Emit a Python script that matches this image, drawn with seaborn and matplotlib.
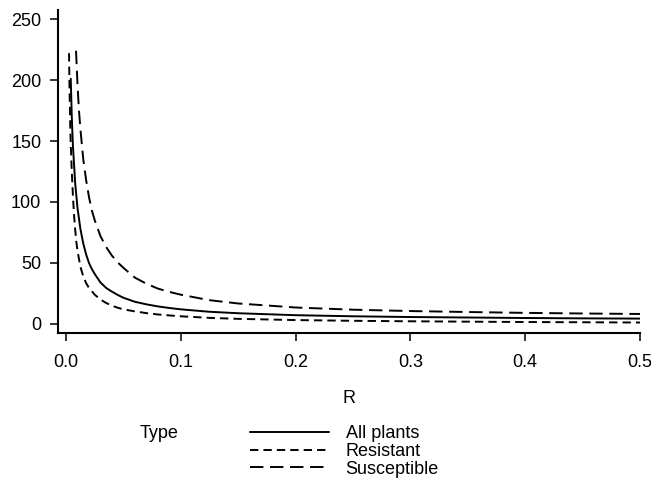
import seaborn as sns
import matplotlib.pyplot as plt
import pandas as pd

# values
r_all = [0.0041, 0.005, 0.006, 0.008, 0.01, 0.0125, 0.015, 0.0175, 0.02, 0.0225, 0.025, 0.03,
         0.035, 0.04, 0.045, 0.05, 0.06, 0.07, 0.08, 0.09, 0.1, 0.125, 0.15, 0.2, 0.25,
         0.3, 0.35, 0.4, 0.45, 0.5]
y_all = [201, 170, 146, 115, 95, 78, 66, 57, 50, 45, 41, 34,
         29.5, 26.5, 23.8, 21.5, 18.2, 16.1, 14.4, 13.1, 12, 10, 8.8, 7.2, 6.3,
         5.7, 5.3, 4.9, 4.6, 4.4]

r_res = [0.0026, 0.003, 0.0035, 0.004, 0.005, 0.006, 0.007, 0.008, 0.009, 0.01, 0.0125, 0.015,
         0.0175, 0.02, 0.025, 0.03, 0.035, 0.04, 0.045, 0.05, 0.06, 0.07, 0.08, 0.09, 0.1,
         0.125, 0.15, 0.2, 0.25, 0.3, 0.35, 0.4, 0.45, 0.5]
y_res = [222, 195, 170, 150, 125, 105, 89, 77, 67, 60, 47, 39,
         33.5, 29.5, 24, 20, 17.2, 15, 13.3, 12, 10.3, 8.9, 7.8, 7, 6.3,
         5, 4.2, 3.2, 2.6, 2.2, 1.9, 1.6, 1.4, 1.2]

r_sus = [0.0087, 0.01, 0.0112, 0.0125, 0.015, 0.0175, 0.02, 0.0225, 0.025, 0.03, 0.035,
         0.04, 0.045, 0.05, 0.06, 0.07, 0.08, 0.09, 0.1, 0.125, 0.15, 0.2, 0.25,
         0.3, 0.35, 0.4, 0.45, 0.5]
y_sus = [224, 196, 176, 160, 135, 118, 104, 93, 85, 72, 63,
         56, 50.5, 46, 38, 33, 29, 26.3, 24, 19.5, 16.8, 13.5, 11.7,
         10.6, 9.8, 9.1, 8.6, 8.2]

types = ['All plants', 'Resistant', 'Susceptible']

df = pd.concat([
    pd.DataFrame({'R': r_all, 'val': y_all, 'Type': types[0]}),
    pd.DataFrame({'R': r_res, 'val': y_res, 'Type': types[1]}),
    pd.DataFrame({'R': r_sus, 'val': y_sus, 'Type': types[2]}),
])

sns.set_style('ticks')
plt.rcParams['font.family'] = ['Liberation Sans', 'DejaVu Sans']
plt.rcParams['font.size'] = 13
plt.rcParams['text.color'] = 'black'
plt.rcParams['axes.labelcolor'] = 'black'
plt.rcParams['xtick.color'] = 'black'
plt.rcParams['ytick.color'] = 'black'

fig = plt.figure(figsize=(6.51, 4.79), dpi=100)
ax = fig.add_axes([58/651, 1-333/479, (640-58)/651, (333-10)/479])

sns.lineplot(data=df, x='R', y='val', hue='Type', style='Type',
             palette={t: 'black' for t in types},
             dashes={types[0]: '', types[1]: (4.3, 2.6), types[2]: (6.9, 3.4)},
             linewidth=1.4, ax=ax, sort=False, legend=True)

handles, labels = ax.get_legend_handles_labels()
ax.get_legend().remove()

ax.set_xlim(-0.007, 0.5)
ax.set_ylim(-7.4, 257.4)
ax.set_xticks([0, 0.1, 0.2, 0.3, 0.4, 0.5])
ax.set_xticklabels(['0.0', '0.1', '0.2', '0.3', '0.4', '0.5'])
ax.set_yticks([0, 50, 100, 150, 200, 250])
ax.set_xlabel('R', labelpad=14)
ax.set_ylabel('')
for s in ['top', 'right']:
    ax.spines[s].set_visible(False)
for s in ['left', 'bottom']:
    ax.spines[s].set_linewidth(1.5)
    ax.spines[s].set_color('black')
ax.tick_params(axis='both', colors='black', width=1.1, length=6, labelsize=13)
ax.tick_params(axis='x', pad=9)
ax.tick_params(axis='y', pad=6)

fig.legend(handles, labels, loc='upper left', bbox_to_anchor=(250/651, 1-425/479),
           frameon=False, borderpad=0, borderaxespad=0, labelspacing=0.05,
           handlelength=4.4, handletextpad=0.9, fontsize=13)
fig.text(140/651, 1-433/479, 'Type', va='center', ha='left', fontsize=13)

fig.savefig('out.png', dpi=100)
